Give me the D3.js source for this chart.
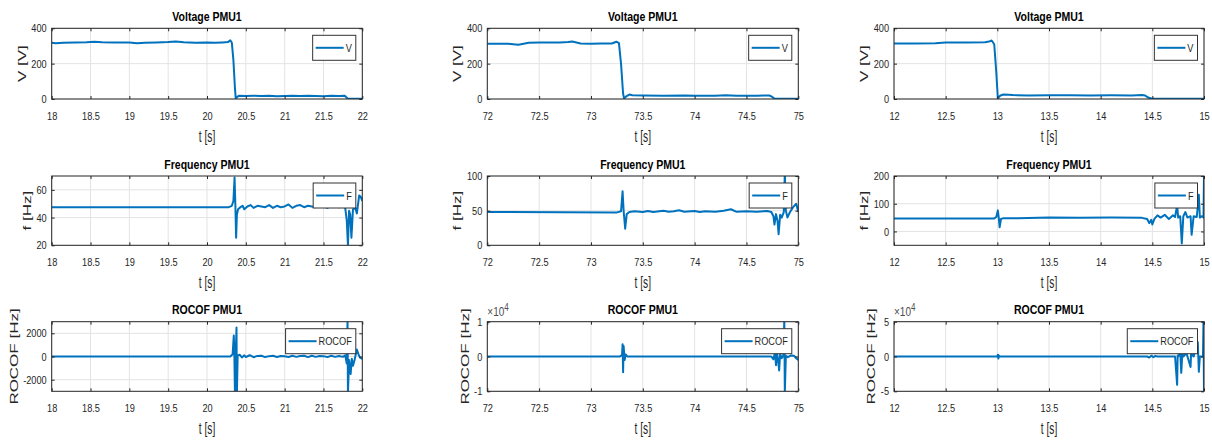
<!DOCTYPE html>
<html>
<head>
<meta charset="utf-8">
<script src="https://cdn.jsdelivr.net/npm/d3@7"></script>
<style>
  html, body { margin: 0; padding: 0; background: #fff; }
  svg { display: block; font-family: "Liberation Sans", Arial, sans-serif; }
</style>
</head>
<body>
<svg id="fig" width="1212" height="442"></svg>
<script>
// ---- Time windows (one per column) and their tick labels ----
const windowA = [18, 22];
const windowB = [72, 75];
const windowC = [12, 15];
const ticksA = [18, 18.5, 19, 19.5, 20, 20.5, 21, 21.5, 22];
const ticksB = [72, 72.5, 73, 73.5, 74, 74.5, 75];
const ticksC = [12, 12.5, 13, 13.5, 14, 14.5, 15];

// ---- Voltage magnitude [V] as [t, V] ----
const voltageA = [[18,318],[18.05,316],[18.15,318],[18.3,320],[18.45,321],[18.55,324],[18.65,321],[18.8,320],[19.0,319],[19.1,315],[19.2,318],[19.35,320],[19.5,322],[19.6,325],[19.7,321],[19.85,318],[20.0,319],[20.1,318],[20.2,320],[20.27,322],[20.3,332],[20.32,318],[20.34,220],[20.36,60],[20.37,5],[20.39,12],[20.41,18],[20.5,17],[20.6,18],[20.7,17],[20.8,18],[20.9,16],[21.0,17],[21.1,18],[21.2,17],[21.3,18],[21.4,17],[21.5,16],[21.6,18],[21.7,17],[21.77,19],[21.79,12],[21.81,3],[21.85,2],[21.95,1],[22.0,2]];
const voltageB = [[72,312],[72.2,312],[72.3,307],[72.4,318],[72.5,319],[72.7,319],[72.78,322],[72.82,325],[72.9,314],[73.0,313],[73.1,314],[73.2,314],[73.245,324],[73.27,316],[73.29,200],[73.31,30],[73.32,2],[73.34,15],[73.37,25],[73.4,21],[73.5,20],[73.7,19],[73.9,20],[74.0,19],[74.2,19],[74.3,21],[74.4,18],[74.6,19],[74.72,20],[74.74,15],[74.77,3],[74.8,1],[75,1]];
const voltageC = [[12,314],[12.2,314],[12.4,316],[12.5,319],[12.7,320],[12.88,321],[12.92,325],[12.945,331],[12.97,310],[12.99,150],[13.005,3],[13.03,20],[13.06,25],[13.15,22],[13.3,20],[13.5,21],[13.7,21],[13.9,20],[14.1,21],[14.3,20],[14.4,22],[14.43,20],[14.46,8],[14.5,2],[14.7,1],[15,1]];

// ---- Frequency [Hz] as [t, f] ----
const freqA = [[18,47.5],[20.28,47.5],[20.32,48.5],[20.34,52],[20.355,69],[20.365,50],[20.375,25.5],[20.385,42],[20.4,46],[20.43,47.5],[20.46,48.5],[20.48,46],[20.52,48],[20.56,49],[20.6,47],[20.65,48.5],[20.7,48],[20.75,47.5],[20.8,49],[20.85,47],[20.9,48.5],[20.95,47.5],[21.0,48],[21.05,49.5],[21.1,47],[21.15,48.5],[21.2,49],[21.25,47.5],[21.3,48.5],[21.35,48],[21.4,47.5],[21.45,48.5],[21.5,48],[21.55,47],[21.6,48.5],[21.65,48],[21.7,47.5],[21.75,48],[21.78,47],[21.8,38],[21.815,20],[21.83,45],[21.845,42],[21.86,25.5],[21.88,46],[21.91,47],[21.93,43],[21.96,56],[21.98,55],[22,52]];
const freqB = [[72,48],[73.25,47.5],[73.29,49],[73.305,78],[73.315,50],[73.33,24],[73.345,45],[73.37,48],[73.42,49],[73.5,48],[73.55,49.5],[73.6,48],[73.7,50],[73.75,48.5],[73.8,49],[73.85,50.5],[73.9,48.5],[74.0,49.5],[74.05,48],[74.1,49],[74.2,48.5],[74.28,50],[74.35,52],[74.4,48.5],[74.5,49],[74.6,48.5],[74.7,49.5],[74.74,48],[74.76,42],[74.77,30],[74.785,45],[74.8,35],[74.81,16],[74.825,44],[74.84,40],[74.86,48],[74.87,105],[74.88,50],[74.895,40],[74.92,48],[74.95,55],[74.98,60],[75,48]];
const freqC = [[12,47],[12.97,47],[12.99,52],[13.005,76],[13.015,45],[13.022,15],[13.035,45],[13.06,48],[13.2,48],[13.5,50],[13.8,49],[14.1,50],[14.4,49],[14.45,45],[14.47,30],[14.49,42],[14.5,25],[14.52,45],[14.55,58],[14.58,50],[14.62,60],[14.66,45],[14.7,58],[14.72,52],[14.74,95],[14.75,50],[14.77,55],[14.785,-43],[14.8,55],[14.82,70],[14.84,50],[14.87,55],[14.88,-12],[14.9,55],[14.93,52],[14.95,132],[14.96,50],[14.98,55],[14.995,50],[15,205]];

// ---- Rate of change of frequency as [t, ROCOF] ----
const rocofA = [[18,0],[20.3,0],[20.33,200],[20.345,1800],[20.352,300],[20.36,-3200],[20.37,200],[20.38,2500],[20.385,-3200],[20.395,100],[20.42,150],[20.45,-80],[20.48,100],[20.5,-40],[20.55,110],[20.6,-60],[20.65,50],[20.7,70],[20.75,-50],[20.8,30],[20.85,60],[20.9,-40],[20.95,50],[21.0,30],[21.05,-40],[21.1,60],[21.15,-30],[21.2,50],[21.25,70],[21.3,-50],[21.35,60],[21.4,-30],[21.45,50],[21.5,30],[21.55,-50],[21.6,60],[21.65,-30],[21.7,50],[21.75,-30],[21.78,100],[21.8,-600],[21.81,3200],[21.815,-3200],[21.83,-300],[21.85,-1500],[21.865,-200],[21.88,-800],[21.9,-300],[21.93,600],[21.95,200],[21.97,-100],[22,-200]];
const rocofB = [[72,0],[73.28,0],[73.3,500],[73.305,3500],[73.31,-4500],[73.315,3000],[73.325,-1000],[73.335,600],[73.35,0],[74.74,0],[74.76,-800],[74.775,1200],[74.785,-2500],[74.795,1000],[74.805,-1000],[74.815,-4000],[74.825,800],[74.84,-500],[74.855,200],[74.865,10500],[74.87,-10500],[74.88,200],[74.9,-200],[74.93,300],[74.96,200],[74.98,-500],[75,-1000]];
const rocofC = [[12,0],[13.0,0],[13.005,2500],[13.01,-3000],[13.015,1500],[13.02,0],[14.45,0],[14.47,-1500],[14.49,1200],[14.51,-1000],[14.53,800],[14.55,0],[14.72,0],[14.74,-40700],[14.745,1500],[14.75,0],[14.77,6000],[14.78,-23500],[14.79,4000],[14.8,0],[14.83,5000],[14.84,0],[14.87,-15000],[14.875,4000],[14.9,0],[14.94,20500],[14.95,-22000],[14.96,0],[14.99,0],[14.995,52000],[15,-52000]];

// ---- Y ranges and ticks ----
const voltageRange = [0, 400];
const voltageTicks = [0, 200, 400];
const freqRangeA = [20, 70], freqTicksA = [20, 40, 60];
const freqRangeB = [0, 100], freqTicksB = [0, 50, 100];
const freqRangeC = [-50, 200], freqTicksC = [0, 100, 200];
const rocofRangeA = [-3000, 3000], rocofTicksA = [-2000, 0, 2000];
const rocofRangeB = [-10000, 10000], rocofTicksB = [-10000, 0, 10000];
const rocofRangeC = [-50000, 50000], rocofTicksC = [-50000, 0, 50000];

// ---- Titles, axis labels, legend entries ----
const rowTitles = ["Voltage PMU1", "Frequency PMU1", "ROCOF PMU1"];
const rowYLabels = ["V [V]", "f [Hz]", "ROCOF [Hz]"];
const rowLegends = ["V", "F", "ROCOF"];
const xLabel = "t [s]";

// ---- Layout ----
const colBox = [[51.7, 362.3], [487.3, 798.3], [894, 1204]];
const rowBox = [[28.3, 99], [176, 245.3], [321.7, 391.3]];
const lineColor = "#0072BD";
const axisColor = "#262626";
const sx = 0.8;      // horizontal squeeze for text
const lblSx = 0.6;   // squeeze for axis labels

const windows = [windowA, windowB, windowC];
const xTicks = [ticksA, ticksB, ticksC];
const series = [[voltageA, voltageB, voltageC], [freqA, freqB, freqC], [rocofA, rocofB, rocofC]];
const yRanges = [[voltageRange, voltageRange, voltageRange], [freqRangeA, freqRangeB, freqRangeC], [rocofRangeA, rocofRangeB, rocofRangeC]];
const yTicks = [[voltageTicks, voltageTicks, voltageTicks], [freqTicksA, freqTicksB, freqTicksC], [rocofTicksA, rocofTicksB, rocofTicksC]];
const yExponent = [[0, 0, 0], [0, 0, 0], [0, 4, 4]];

const svg = d3.select("#fig");
const defs = svg.append("defs");

for (let r = 0; r < 3; r++) {
  for (let c = 0; c < 3; c++) {
    const [x0, x1] = colBox[c];
    const [y0, y1] = rowBox[r];
    const w = x1 - x0, h = y1 - y0;
    const x = d3.scaleLinear().domain(windows[c]).range([0, w]);
    const y = d3.scaleLinear().domain(yRanges[r][c]).range([h, 0]);
    const expo = yExponent[r][c];
    const g = svg.append("g").attr("transform", `translate(${x0},${y0})`);

    const clipId = `clip-${r}-${c}`;
    defs.append("clipPath").attr("id", clipId).append("rect").attr("width", w).attr("height", h);

    // grid
    g.append("g").selectAll("line").data(xTicks[c]).join("line")
      .attr("x1", d => x(d)).attr("x2", d => x(d)).attr("y1", 0).attr("y2", h)
      .attr("stroke", "#e3e3e3").attr("stroke-width", 1);
    g.append("g").selectAll("line").data(yTicks[r][c]).join("line")
      .attr("x1", 0).attr("x2", w).attr("y1", d => y(d)).attr("y2", d => y(d))
      .attr("stroke", "#e3e3e3").attr("stroke-width", 1);

    // data trace
    const line = d3.line().x(d => x(d[0])).y(d => y(d[1]));
    g.append("path").datum(series[r][c])
      .attr("clip-path", `url(#${clipId})`)
      .attr("d", line).attr("fill", "none")
      .attr("stroke", lineColor).attr("stroke-width", 2).attr("stroke-linejoin", "round");

    // axes (ticks pointing inward)
    const ax = g.append("g").attr("transform", `translate(0,${h})`)
      .call(d3.axisBottom(x).tickValues(xTicks[c]).tickSizeInner(-3).tickSizeOuter(0).tickPadding(13).tickFormat(d => String(d)));
    g.append("g").call(d3.axisTop(x).tickValues(xTicks[c]).tickSizeInner(-3).tickSizeOuter(0).tickFormat(""));
    const ay = g.append("g")
      .call(d3.axisLeft(y).tickValues(yTicks[r][c]).tickSizeInner(-3).tickSizeOuter(0)
        .tickFormat(d => String(expo ? d / Math.pow(10, expo) : d)));
    g.append("g").attr("transform", `translate(${w},0)`)
      .call(d3.axisRight(y).tickValues(yTicks[r][c]).tickSizeInner(-3).tickSizeOuter(0).tickFormat(""));
    g.selectAll(".domain").remove();
    g.selectAll(".tick line").attr("stroke", axisColor);

    ax.selectAll("text").attr("fill", axisColor).attr("font-size", 11.5)
      .attr("font-family", null).attr("transform", `scale(${sx},1)`);
    ay.selectAll("text").attr("fill", axisColor).attr("font-size", 11.5)
      .attr("font-family", null).attr("x", null)
      .attr("transform", `translate(-5,0) scale(${sx},1)`);

    // box
    g.append("rect").attr("width", w).attr("height", h)
      .attr("fill", "none").attr("stroke", axisColor).attr("stroke-width", 1);

    // exponent label
    if (expo) {
      const ex = g.append("text").attr("transform", `translate(0,-5.5) scale(${sx},1)`)
        .attr("fill", "#4d4d4d").attr("font-size", 12.5);
      ex.append("tspan").text("\u00d710");
      ex.append("tspan").attr("dy", -5).attr("font-size", 10).text(String(expo));
    }

    // title
    g.append("text").attr("transform", `translate(${w / 2},-7.5) scale(0.78,1)`)
      .attr("text-anchor", "middle").attr("font-weight", "bold").attr("font-size", 13.5)
      .attr("fill", "#000").text(rowTitles[r]);

    // x label
    g.append("text").attr("transform", `translate(${w / 2},${h + 43}) scale(${lblSx},1)`)
      .attr("text-anchor", "middle").attr("font-size", 17).attr("fill", axisColor).text(xLabel);

    // y label, placed left of the widest tick label
    let minX = 0;
    ay.selectAll("text").each(function () {
      const b = this.getBBox();
      minX = Math.min(minX, -5 + b.x * sx);
    });
    g.append("text")
      .attr("transform", `translate(${minX - 10 + 4.5},${h / 2}) scale(${lblSx},1) rotate(-90)`)
      .attr("text-anchor", "middle").attr("font-size", 17).attr("fill", axisColor).text(rowYLabels[r]);

    // legend
    const lg = g.append("g");
    const lt = lg.append("text").attr("font-size", 11.5).attr("fill", axisColor).text(rowLegends[r]);
    const tw = lt.node().getComputedTextLength() * sx;
    const lw = 3 + 28 + 2 + tw + 4;
    const lx = w - 6.5 - lw, ly = 7;
    lg.insert("rect", "text").attr("x", lx).attr("y", ly).attr("width", lw).attr("height", 25)
      .attr("fill", "#fff").attr("stroke", "#333").attr("stroke-width", 1);
    lg.insert("line", "text").attr("x1", lx + 3).attr("x2", lx + 31).attr("y1", ly + 12.5).attr("y2", ly + 12.5)
      .attr("stroke", lineColor).attr("stroke-width", 2);
    lt.attr("transform", `translate(${lx + 33},${ly + 16.5}) scale(${sx},1)`);
  }
}
</script>
</body>
</html>
